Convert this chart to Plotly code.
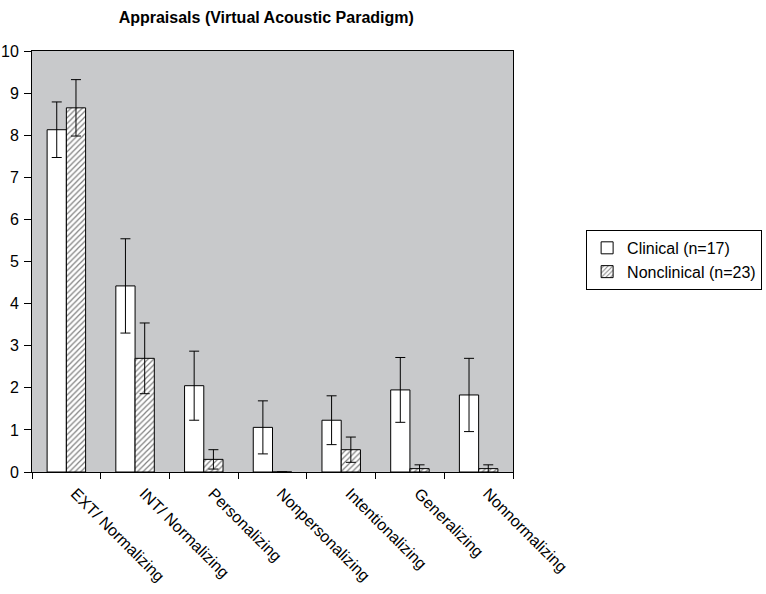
import plotly.graph_objects as go

categories = ["EXT/ Normalizing", "INT/ Normalizing", "Personalizing", "Nonpersonalizing",
              "Intentionalizing", "Generalizing", "Nonnormalizing"]
clinical = [8.13, 4.42, 2.05, 1.06, 1.23, 1.95, 1.83]
clinical_err = [0.66, 1.12, 0.82, 0.63, 0.58, 0.77, 0.87]
nonclinical = [8.65, 2.70, 0.30, 0.0, 0.53, 0.08, 0.08]
nonclinical_err = [0.67, 0.84, 0.23, 0.0, 0.30, 0.09, 0.09]

font = "Liberation Sans, Arial, sans-serif"

fig = go.Figure()
fig.add_trace(go.Bar(
    name="Clinical (n=17)", x=categories, y=clinical,
    marker=dict(color="white", line=dict(color="black", width=1)),
    error_y=dict(type="data", array=clinical_err, color="black", thickness=1, width=5),
))
fig.add_trace(go.Bar(
    name="Nonclinical (n=23)", x=categories, y=nonclinical,
    marker=dict(color="white", line=dict(color="black", width=1),
                pattern=dict(shape="/", fgcolor="black", bgcolor="white", size=4, solidity=0.3)),
    error_y=dict(type="data", array=nonclinical_err, color="black", thickness=1, width=5),
))

fig.update_layout(
    width=766, height=594,
    margin=dict(l=32, r=253, t=51, b=122, autoexpand=False),
    paper_bgcolor="white", plot_bgcolor="#C8C9CB",
    barmode="group", bargap=0.44, bargroupgap=0,
    font=dict(family=font, size=16, color="black"),
    title=dict(text="<b>Appraisals (Virtual Acoustic Paradigm)</b>", x=0.487, xref="paper",
               xanchor="center", y=1 - 17/594, yanchor="middle", font=dict(size=16, family=font)),
    showlegend=True,
    legend=dict(x=1.152, y=0.575, xanchor="left", yanchor="top",
                bordercolor="black", borderwidth=1, bgcolor="white", itemwidth=30,
                font=dict(size=16, family=font), tracegroupgap=2),
    xaxis=dict(showline=True, linecolor="black", linewidth=1, mirror=True, automargin=False,
               ticks="outside", ticklen=6, tickcolor="black", tickson="boundaries",
               tickangle=45, showgrid=False, tickfont=dict(size=16),
               ticklabelshift=9, ticklabelstandoff=5),
    yaxis=dict(range=[0, 10], dtick=1, showline=True, linecolor="black", linewidth=1, mirror=True,
               automargin=False, ticks="outside", ticklen=7, tickcolor="black", showgrid=False,
               zeroline=False, tickfont=dict(size=16), ticklabelstandoff=2),
)

fig.write_html("out.html", config={"displayModeBar": False},
               post_script="document.body.style.margin='0';document.body.style.padding='0';")
